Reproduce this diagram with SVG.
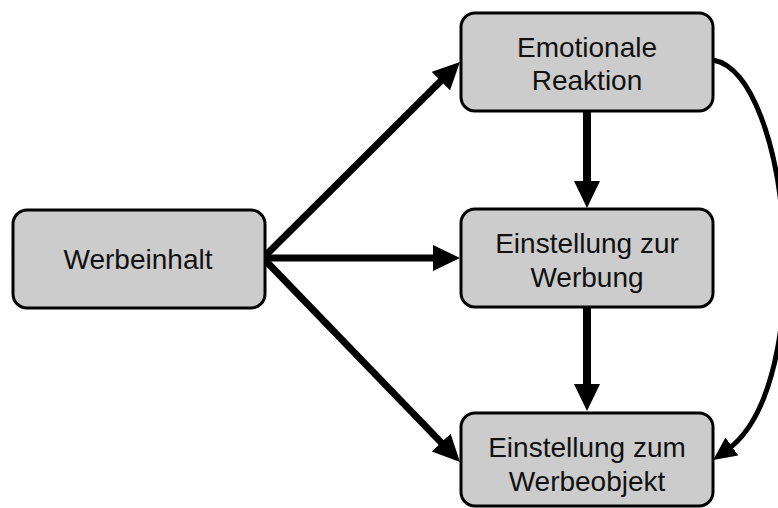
<svg xmlns="http://www.w3.org/2000/svg" width="778" height="508" viewBox="0 0 778 508">
  <style>
    .box { fill: #cccccc; stroke: #000000; stroke-width: 3; }
    .label { font-family: "Liberation Sans", Arial, sans-serif; font-size: 28px; fill: #111111; text-anchor: middle; }
    .edge { fill: none; stroke: #000000; stroke-width: 7; }
    .edge-v { fill: none; stroke: #000000; stroke-width: 8; }
    .edge-curve { fill: none; stroke: #000000; stroke-width: 5; }
  </style>
  <defs>
    <marker id="head" markerUnits="userSpaceOnUse" markerWidth="28" markerHeight="28" refX="6" refY="13" orient="auto">
      <path d="M0,0 L27,13 L0,26 z" fill="#000000"/>
    </marker>
    <marker id="head-small" markerUnits="userSpaceOnUse" markerWidth="24" markerHeight="24" refX="6" refY="11" orient="auto">
      <path d="M0,0 L23,11 L0,22 z" fill="#000000"/>
    </marker>
  </defs>
  <rect width="778" height="508" fill="#ffffff"/>

  <g id="connectors">
    <path class="edge" d="M263,258 L445.1,76.8" marker-end="url(#head)"/>
    <path class="edge" d="M263,258 L439,258" marker-end="url(#head)"/>
    <path class="edge" d="M263,258 L445.4,446.9" marker-end="url(#head)"/>
    <path class="edge-v" d="M587,111 L587,187" marker-end="url(#head)"/>
    <path class="edge-v" d="M587,307 L587,390" marker-end="url(#head)"/>
    <path class="edge-curve" d="M713,60 C792,74 818,385 727,450" marker-end="url(#head-small)"/>
  </g>

  <g id="werbeinhalt">
    <rect class="box" x="13" y="210" width="252" height="98" rx="14"/>
    <text class="label" x="138" y="269">Werbeinhalt</text>
  </g>

  <g id="emotionale-reaktion">
    <rect class="box" x="461" y="13" width="252" height="98" rx="14"/>
    <text class="label" x="587" y="57">Emotionale</text>
    <text class="label" x="587" y="90">Reaktion</text>
  </g>

  <g id="einstellung-werbung">
    <rect class="box" x="461" y="209" width="252" height="98" rx="14"/>
    <text class="label" x="587" y="253">Einstellung zur</text>
    <text class="label" x="587" y="287">Werbung</text>
  </g>

  <g id="einstellung-werbeobjekt">
    <rect class="box" x="461" y="413" width="252" height="93" rx="14"/>
    <text class="label" x="587" y="457">Einstellung zum</text>
    <text class="label" x="587" y="491">Werbeobjekt</text>
  </g>
</svg>
